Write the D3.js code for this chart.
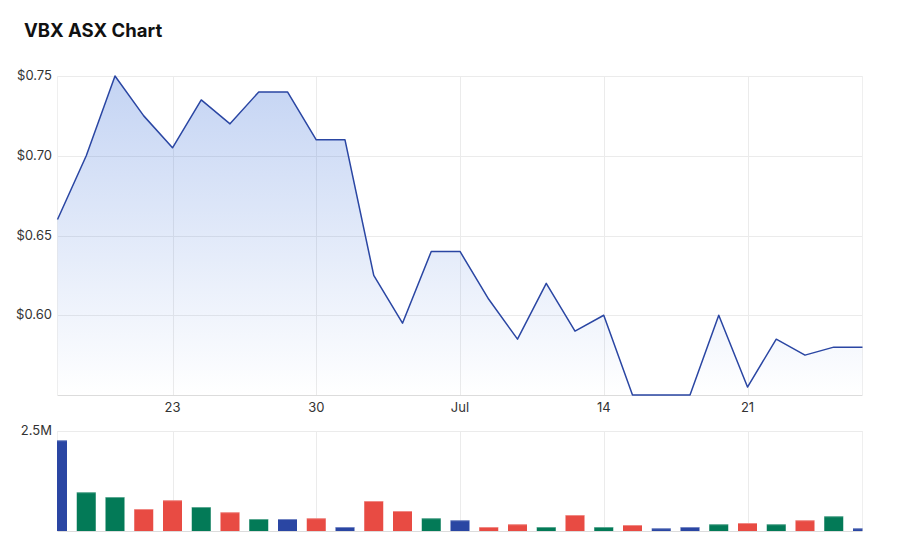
<!DOCTYPE html>
<html><head><meta charset="utf-8">
<script src="https://cdn.jsdelivr.net/npm/d3@7"></script>
<style>
body{margin:0;background:#fff;font-family:Inter,"Open Sans",sans-serif;}
</style></head>
<body><svg id="c" width="908" height="547"></svg>
<script>
const dates = ["2025-06-17","2025-06-18","2025-06-19","2025-06-20","2025-06-23","2025-06-24","2025-06-25","2025-06-26","2025-06-27","2025-06-30","2025-07-01","2025-07-02","2025-07-03","2025-07-04","2025-07-07","2025-07-08","2025-07-09","2025-07-10","2025-07-11","2025-07-14","2025-07-15","2025-07-16","2025-07-17","2025-07-18","2025-07-21","2025-07-22","2025-07-23","2025-07-24","2025-07-25"];
const prices = [0.66,0.70,0.75,0.725,0.705,0.735,0.72,0.74,0.74,0.71,0.71,0.625,0.595,0.64,0.64,0.61,0.585,0.62,0.59,0.60,0.55,0.55,0.55,0.60,0.555,0.585,0.575,0.58,0.58];
const volumes = [2270000,970000,850000,550000,770000,600000,470000,300000,300000,320000,100000,750000,500000,320000,270000,100000,170000,100000,400000,100000,150000,70000,100000,170000,200000,170000,270000,370000,70000];
const priceTicks = [0.60,0.65,0.70,0.75];
const dateTicks = [{d:"2025-06-23",label:"23"},{d:"2025-06-30",label:"30"},{d:"2025-07-07",label:"Jul"},{d:"2025-07-14",label:"14"},{d:"2025-07-21",label:"21"}];
const volTicks = [2500000];

const svg = d3.select("#c");
const L = 57.5, R = 862.5;
const x = d3.scalePoint().domain(dates).range([L, R]);
const y = d3.scaleLinear().domain([0.55, 0.75]).range([395, 76]);
const yv = d3.scaleLinear().domain([0, 2500000]).range([531, 431]);
const blue = "#2a46a3", green = "#037a57", red = "#e84b43";

svg.append("text").attr("x", 24).attr("y", 37).attr("font-size", 18.5).attr("font-weight", 700)
  .attr("fill", "#111").text("VBX ASX Chart");

const defs = svg.append("defs");
const g = defs.append("linearGradient").attr("id","grad").attr("gradientUnits","userSpaceOnUse")
  .attr("x1",0).attr("x2",0).attr("y1",y(0.75)).attr("y2",y(0.55));
g.append("stop").attr("offset",0).attr("stop-color","#3a6fd8").attr("stop-opacity",0.3);
g.append("stop").attr("offset",1).attr("stop-color","#3a6fd8").attr("stop-opacity",0.0);
defs.append("clipPath").attr("id","clipv").append("rect").attr("x",L-0.5).attr("y",400).attr("width",R-L+0.5).attr("height",140);

// grids
const grid = svg.append("g").attr("stroke","#ebebeb").attr("stroke-width",1);
priceTicks.forEach(t => grid.append("line").attr("x1",L).attr("x2",R).attr("y1",Math.round(y(t))+0.5).attr("y2",Math.round(y(t))+0.5));
grid.append("line").attr("x1",L).attr("x2",R).attr("y1",395.5).attr("y2",395.5).attr("stroke","#dcdcdc");
dateTicks.forEach(t => {
  const xx = Math.round(x(t.d))+0.5;
  grid.append("line").attr("x1",xx).attr("x2",xx).attr("y1",76).attr("y2",395);
  grid.append("line").attr("x1",xx).attr("x2",xx).attr("y1",431).attr("y2",531);
});
[L, R].forEach(xx => {
  grid.append("line").attr("x1",xx).attr("x2",xx).attr("y1",76).attr("y2",395).attr("stroke","#efefef");
  grid.append("line").attr("x1",xx).attr("x2",xx).attr("y1",431).attr("y2",531).attr("stroke","#efefef");
});
volTicks.forEach(t => grid.append("line").attr("x1",L).attr("x2",R).attr("y1",Math.round(yv(t))+0.5).attr("y2",Math.round(yv(t))+0.5));
grid.append("line").attr("x1",L).attr("x2",R).attr("y1",531.5).attr("y2",531.5).attr("stroke","#dcdcdc");

const pts = dates.map((d,i) => ({d, p: prices[i], v: volumes[i], i}));
svg.append("path").datum(pts).attr("fill","url(#grad)")
  .attr("d", d3.area().x(d=>x(d.d)).y0(y(0.55)).y1(d=>y(d.p)));
svg.append("path").datum(pts).attr("fill","none").attr("stroke",blue).attr("stroke-width",1.5)
  .attr("stroke-linejoin","round")
  .attr("d", d3.line().x(d=>x(d.d)).y(d=>y(d.p)));

// axes labels
const ax = svg.append("g").attr("font-size",13).attr("fill","#333");
priceTicks.forEach(t => ax.append("text").attr("x",52).attr("y",y(t)+4).attr("text-anchor","end").text("$"+t.toFixed(2)));
dateTicks.forEach(t => ax.append("text").attr("x",x(t.d)).attr("y",412).attr("text-anchor","middle").text(t.label));
volTicks.forEach(t => ax.append("text").attr("x",52).attr("y",yv(t)+4).attr("text-anchor","end").text(d3.format(".2~s")(t).replace("G","B")));

// volume bars
const bw = 19;
const colorOf = (d) => d.i === 0 ? blue : (d.p > prices[d.i-1] ? green : d.p < prices[d.i-1] ? red : blue);
const vb = svg.append("g").attr("clip-path","url(#clipv)");
vb.selectAll("rect.b").data(pts).join("rect").attr("class","b")
  .attr("x", d => x(d.d) - bw/2).attr("width", bw)
  .attr("y", d => yv(d.v)).attr("height", d => yv(0) - yv(d.v))
  .attr("fill", colorOf);
vb.selectAll("rect.t").data(pts).join("rect").attr("class","t")
  .attr("x", d => x(d.d) - bw/2).attr("width", bw)
  .attr("y", d => yv(d.v)).attr("height", 1)
  .attr("fill", "#fff").attr("opacity",0.35);
</script></body></html>
